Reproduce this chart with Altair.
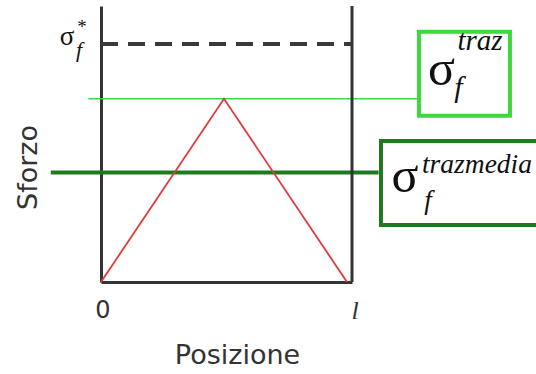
import altair as alt
import pandas as pd

# --- data -----------------------------------------------------------------
# stress profile along the fibre (position in units of l, stress in units of sigma_f*)
positions = [0.0, 0.49, 0.98]
stress = [0.0, 0.77, 0.0]

sigma_star = 1.0      # fracture stress of the fibre
sigma_traz = 0.77     # peak tensile stress
sigma_media = 0.46    # mean tensile stress

x_ticks = [0.0, 1.0]
x_tick_labels = ["0", "l"]

# --- layout (pixels / axis extents) ----------------------------------------
Y_TOP = 1.16
W, H = 251, 276
PAD = {"left": 101, "top": 6, "right": 184, "bottom": 92}

DARK = "#333333"
RED = "#e23838"
LIGHT_GREEN = "#3ed83e"
DARK_GREEN = "#1f7a1f"
SERIF = "Liberation Serif"
SANS = "DejaVu Sans"

xs = alt.Scale(domain=[0, 1], nice=False, zero=False)
ys = alt.Scale(domain=[0, Y_TOP], nice=False, zero=False)

profile = pd.DataFrame({"pos": positions, "stress": stress})

# axes carry only the titles and the left/bottom frame lines
base = alt.Chart(profile).mark_line(color=RED, strokeWidth=1.8, clip=False).encode(
    x=alt.X("pos:Q", scale=xs, axis=alt.Axis(
        title="Posizione", labels=False, ticks=False, grid=False,
        domainColor=DARK, domainWidth=3,
        titleFont=SANS, titleFontSize=27, titleFontWeight="normal", titleColor="#333333",
        titleX=136, titleY=73, titleBaseline="middle", titleAnchor="start", titleAlign="center")),
    y=alt.Y("stress:Q", scale=ys, axis=alt.Axis(
        title="Sforzo", labels=False, ticks=False, grid=False,
        domainColor=DARK, domainWidth=3,
        titleFont=SANS, titleFontSize=27, titleFontWeight="normal", titleColor="#333333",
        titleX=-73, titleY=161, titleAngle=270, titleBaseline="middle", titleAlign="center")),
)

levels = pd.DataFrame({
    "name": ["star", "traz", "media"],
    "y": [sigma_star, sigma_traz, sigma_media],
})

# right frame line at x = l
right_frame = alt.Chart(pd.DataFrame({"x": [1.0], "y": [0.0], "y2": [Y_TOP]})).mark_rule(
    color=DARK, strokeWidth=3, clip=False).encode(
    x=alt.X("x:Q", scale=xs), y=alt.Y("y:Q", scale=ys), y2="y2:Q")

# dashed level of the fracture stress
star_rule = alt.Chart(levels[levels.name == "star"]).mark_rule(
    color="#3a3a3a", strokeWidth=4, strokeDash=[17, 10], clip=False).encode(
    x=alt.value(0), x2=alt.value(W), y=alt.Y("y:Q", scale=ys))

# leader lines to the two labels
traz_rule = alt.Chart(pd.DataFrame({"x": [-0.05], "x2": [1.262], "y": [sigma_traz]})).mark_rule(
    color=LIGHT_GREEN, strokeWidth=1.6, clip=False).encode(
    x=alt.X("x:Q", scale=xs), x2="x2:Q", y=alt.Y("y:Q", scale=ys))

media_rule = alt.Chart(pd.DataFrame({"x": [-0.2], "x2": [1.106], "y": [sigma_media]})).mark_rule(
    color=DARK_GREEN, strokeWidth=4, clip=False).encode(
    x=alt.X("x:Q", scale=xs), x2="x2:Q", y=alt.Y("y:Q", scale=ys))

# label boxes (symbol marks with a rectangular path)
box_traz = alt.Chart(pd.DataFrame({"x": [1.448], "y": [sigma_traz]})).mark_point(
    shape="M-1,-0.923H1V0.923H-1Z", size=91 * 91, filled=False,
    stroke=LIGHT_GREEN, strokeWidth=4, opacity=1, yOffset=-25, clip=False).encode(
    x=alt.X("x:Q", scale=xs), y=alt.Y("y:Q", scale=ys))

box_media = alt.Chart(pd.DataFrame({"x": [1.474], "y": [sigma_media]})).mark_point(
    shape="M-1,-0.4667H1V0.4667H-1Z", size=180 * 180, filled=False,
    stroke=DARK_GREEN, strokeWidth=4, opacity=1, yOffset=10.5, clip=False).encode(
    x=alt.X("x:Q", scale=xs), y=alt.Y("y:Q", scale=ys))


def label(x, y, text, dx, dy, size, style="normal", font=SERIF, align="center", color="#111111"):
    return alt.Chart(pd.DataFrame({"x": [x], "y": [y], "t": [text]})).mark_text(
        dx=dx, dy=dy, fontSize=size, fontStyle=style, font=font, align=align,
        baseline="alphabetic", color=color, clip=False).encode(
        x=alt.X("x:Q", scale=xs), y=alt.Y("y:Q", scale=ys), text="t:N")


texts = [
    # sigma_f^traz
    label(1.448, sigma_traz, "σ", -23, -14, 50),
    label(1.448, sigma_traz, "traz", -7, -49, 29, "italic", align="left"),
    label(1.448, sigma_traz, "f", -6, -2, 30, "italic"),
    # sigma_f^traz,media
    label(1.474, sigma_media, "σ", -66, 19, 50),
    label(1.474, sigma_media, "trazmedia", -49, 0, 27.5, "italic", align="left"),
    label(1.474, sigma_media, "f", -43, 36, 27, "italic"),
    # sigma_f* on the stress axis
    label(0.0, sigma_star, "σ", -34, 1, 27),
    label(0.0, sigma_star, "*", -19, -11, 19),
    label(0.0, sigma_star, "f", -22, 13, 22, "italic"),
    # position ticks
    label(x_ticks[0], 0.0, x_tick_labels[0], 2, 36, 24, font=SANS, color="#333333"),
    label(x_ticks[1], 0.0, x_tick_labels[1], 3, 37, 26, "italic", color="#333333"),
]

chart = alt.layer(
    star_rule, traz_rule, media_rule, right_frame, base, box_traz, box_media, *texts
).properties(
    width=W, height=H, padding=PAD, autosize=alt.AutoSizeParams(type="none"),
    background="white",
).configure_view(stroke=None)

chart.save("out.html", embed_options={"renderer": "svg", "actions": False})
